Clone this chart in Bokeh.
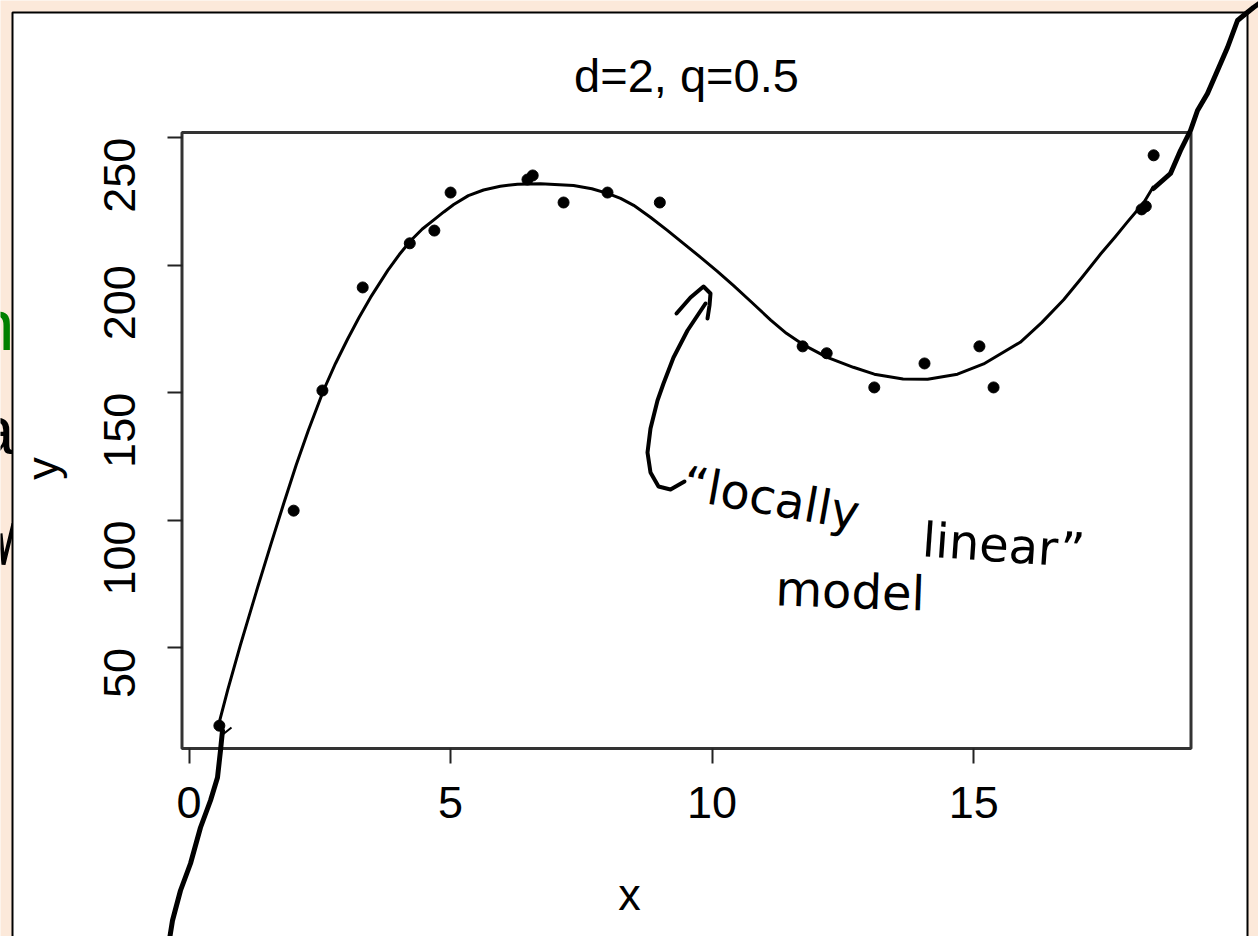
import math

from bokeh.core.properties import value
from bokeh.embed import file_html
from bokeh.models import FixedTicker, LinearAxis, Range1d
from bokeh.plotting import figure
from bokeh.resources import INLINE

# ---- data -----------------------------------------------------------------
pts_x = [0.58, 2.00, 2.55, 3.32, 4.22, 4.69, 5.00, 6.47, 6.57, 7.16, 8.00,
         9.00, 11.73, 12.19, 13.10, 14.06, 15.11, 15.38, 18.21, 18.29, 18.44]
pts_y = [19.5, 103.8, 150.9, 191.3, 208.6, 213.6, 228.5, 233.6, 235.2, 224.6,
         228.5, 224.6, 168.2, 165.5, 152.1, 161.5, 168.2, 152.1, 221.9, 223.1,
         243.1]

# local quadratic (loess, span 0.5) fitted values
fit_x = [0.58, 0.74, 0.98, 1.31, 1.56, 1.81, 2.05, 2.28, 2.57, 2.80, 3.03,
         3.25, 3.47, 3.80, 4.02, 4.24, 4.46, 4.68, 4.87, 5.06, 5.34, 5.63,
         5.95, 6.28, 6.72, 7.35, 7.70, 8.00, 8.25, 8.50, 8.82, 9.15, 9.45,
         9.78, 10.10, 10.41, 10.75, 11.12, 11.42, 11.73, 12.19, 12.70, 13.10,
         13.65, 14.12, 14.69, 15.19, 15.89, 16.30, 16.72, 17.07, 17.43, 17.70,
         17.94, 18.25, 18.44]
fit_y = [21.0, 33.5, 51.0, 73.6, 90.3, 106.6, 121.8, 135.2, 150.9, 161.5,
         171.0, 179.5, 187.4, 198.0, 204.2, 209.7, 214.2, 217.8, 220.9, 223.8,
         227.3, 229.5, 231.0, 231.8, 232.0, 231.3, 230.0, 228.2, 226.2, 223.5,
         218.8, 213.6, 208.6, 203.1, 197.6, 192.0, 185.6, 178.5, 173.3, 169.0,
         164.0, 160.0, 157.3, 155.4, 155.3, 157.3, 161.3, 169.8, 177.5, 186.5,
         195.2, 204.5, 211.0, 217.0, 224.5, 231.0]

x_ticks = [0, 5, 10, 15]
y_ticks = [50, 100, 150, 200, 250]
title_text = "d=2, q=0.5"
note_words = ["\u201clocally", "linear\u201d", "model"]

# ---- layout ---------------------------------------------------------------
W, H = 1258, 936
BOX_L, BOX_R, BOX_T, BOX_B = 181.5, 1190.5, 132.0, 748.0   # plot box, px
PEACH = "#FCE9DA"
FONT = "Liberation Sans"
BASE_SHIFT = 0.38   # text anchor offset (em) above the alphabetic baseline


def padded(vals, frac=0.04):
    lo, hi = min(vals), max(vals)
    span = hi - lo
    return lo - frac * span, hi + frac * span


def anchor(baseline_y, size_px):
    return baseline_y - BASE_SHIFT * size_px


xlim = padded(pts_x)
ylim = padded(pts_y)

# the frame covers the whole canvas; extend the data ranges so that the
# padded data limits land on the plot box
sx = (BOX_R - BOX_L) / (xlim[1] - xlim[0])
sy = (BOX_B - BOX_T) / (ylim[1] - ylim[0])
x_range = Range1d(xlim[0] - BOX_L / sx, xlim[0] + (W - BOX_L) / sx)
y_range = Range1d(ylim[1] - (H - BOX_T) / sy, ylim[1] + BOX_T / sy)

p = figure(width=W, height=H, output_backend="svg", toolbar_location=None,
           x_range=x_range, y_range=y_range, x_axis_type=None,
           y_axis_type=None, min_border=0, min_border_left=0,
           min_border_right=0, min_border_top=0, min_border_bottom=0)
p.outline_line_color = None
p.background_fill_color = PEACH
p.border_fill_color = PEACH
# pixel-space ranges for page decoration (y grows downward)
p.extra_x_ranges = {"px": Range1d(0, W)}
p.extra_y_ranges = {"px": Range1d(H, 0)}
PX = dict(x_range_name="px", y_range_name="px")

# lettering of the neighbouring slide, cut by the left edge
p.text(x=[14], y=[anchor(352, 72)], text=["n"], text_color="#008000",
       text_font=value(FONT), text_font_size=value("72px"),
       text_align="right", text_baseline="alphabetic", **PX)
p.text(x=[14], y=[anchor(455, 68)], text=["a"], text_color="black",
       text_font=value(FONT), text_font_size=value("68px"),
       text_align="right", text_baseline="alphabetic", **PX)
p.line(x=[0, 3, 13], y=[533, 564, 523], line_color="black", line_width=4, **PX)

# white slide panel
p.quad(left=[12], right=[1247], top=[12], bottom=[950], fill_color="white",
       line_color="black", line_width=2, **PX)

# title
p.text(x=[(BOX_L + BOX_R) / 2], y=[anchor(93, 47)], text=[title_text],
       text_font=value(FONT), text_font_size=value("47px"),
       text_color="black", text_align="center", text_baseline="alphabetic",
       **PX)

# plot box
p.quad(left=[xlim[0]], right=[xlim[1]], bottom=[ylim[0]], top=[ylim[1]],
       fill_color=None, line_color="#333333", line_width=3)

# axes sit on the box edges
xaxis = LinearAxis(fixed_location=ylim[0], ticker=FixedTicker(ticks=x_ticks),
                   axis_label="x")
yaxis = LinearAxis(fixed_location=xlim[0], ticker=FixedTicker(ticks=y_ticks),
                   axis_label="y")
for ax in (xaxis, yaxis):
    ax.axis_line_color = None
    ax.major_tick_in = 0
    ax.major_tick_out = 15
    ax.major_tick_line_width = 2
    ax.major_tick_line_color = "#222222"
    ax.minor_tick_line_color = None
    ax.major_label_text_font = FONT
    ax.major_label_text_font_size = "45px"
    ax.major_label_text_color = "black"
    ax.axis_label_text_font = FONT
    ax.axis_label_text_font_size = "45px"
    ax.axis_label_text_font_style = "normal"
    ax.axis_label_text_color = "black"
xaxis.major_label_standoff = 23
xaxis.axis_label_standoff = 48
yaxis.major_label_orientation = math.pi / 2
yaxis.major_label_standoff = 47
yaxis.axis_label_standoff = 19
p.add_layout(xaxis, "below")
p.add_layout(yaxis, "left")

# fitted curve and observations
p.line(fit_x, fit_y, line_color="black", line_width=3, line_join="round")
p.scatter(pts_x, pts_y, size=11, marker="circle", fill_color="black",
          line_color="black")

# hand-drawn ink
INK = dict(line_color="black", line_width=5, line_cap="round",
           line_join="round")
p.line(x=[168, 172, 180, 190, 200, 210, 217, 220, 222],
       y=[945, 920, 890, 863, 827, 800, 777, 750, 730], **INK, **PX)
p.line(x=[221, 231], y=[735, 727], line_color="black", line_width=2, **PX)
p.line(x=[1153, 1170, 1180, 1190, 1197, 1207, 1217, 1227, 1237, 1243, 1253, 1260],
       y=[188, 173, 150, 130, 110, 93, 70, 47, 20, 15, 7, 2], **INK, **PX)
ARROW = dict(line_color="black", line_width=4, line_cap="round",
             line_join="round")
p.line(x=[705, 687, 673, 663, 657, 650, 647, 650, 658, 670, 684],
       y=[303, 330, 357, 383, 400, 428, 452, 472, 486, 489, 481], **ARROW, **PX)
p.line(x=[676, 690, 703, 710, 709, 707],
       y=[313, 297, 286, 293, 305, 318], **ARROW, **PX)

NOTE_SIZE = 48
NOTE = dict(text_font=value("DejaVu Sans"), text_font_size=value(f"{NOTE_SIZE}px"),
            text_color="black", text_align="left", text_baseline="alphabetic")
p.text(x=[683], y=[anchor(500, NOTE_SIZE)], text=[note_words[0]],
       angle=math.radians(-10), **NOTE, **PX)
p.text(x=[922], y=[anchor(557, NOTE_SIZE)], text=[note_words[1]],
       angle=math.radians(-4), **NOTE, **PX)
p.text(x=[775], y=[anchor(606, NOTE_SIZE)], text=[note_words[2]],
       angle=math.radians(-2), **NOTE, **PX)

open("out.html", "w").write(file_html(p, INLINE))
